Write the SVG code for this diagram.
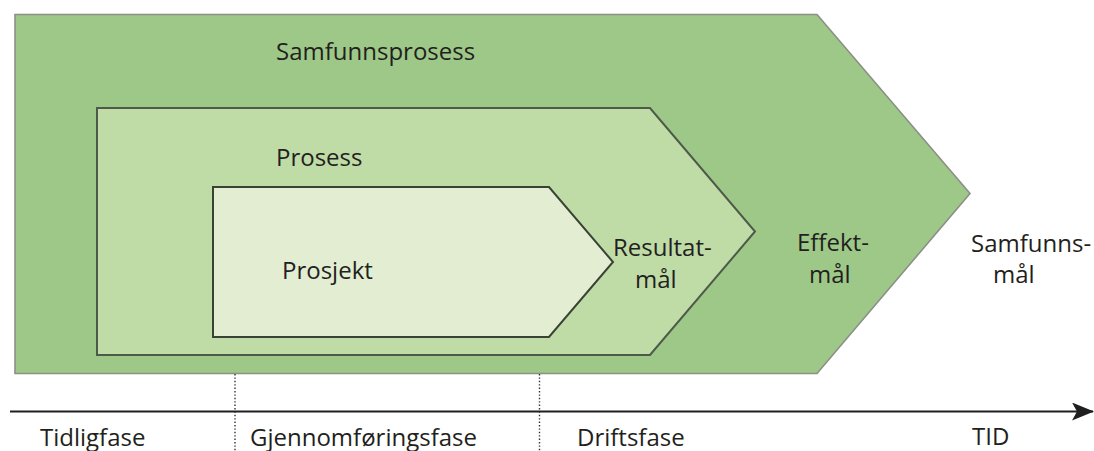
<svg xmlns="http://www.w3.org/2000/svg" width="1094" height="451" viewBox="0 0 1094 451">
  <style>
    text { font-family: "Open Sans", "Noto Sans", "Liberation Sans", sans-serif; font-size: 24px; fill: #231f20; }
    .outer { fill: #9ec887; stroke: #8b9087; stroke-width: 1.6; }
    .middle { fill: #bfdba6; stroke: #4e5a49; stroke-width: 2; }
    .inner { fill: #e2edd2; stroke: #3a4236; stroke-width: 2; }
    .axis { stroke: #1f1f1f; stroke-width: 2; fill: none; }
    .phase { stroke: #333; stroke-width: 1.4; stroke-dasharray: 1.4 2; fill: none; }
  </style>
  <defs>
    <marker id="arrowhead" viewBox="0 0 22 18" refX="21" refY="9" markerWidth="22" markerHeight="18" markerUnits="userSpaceOnUse" orient="auto">
      <path d="M0,0 L22,9 L0,18 L5,9 Z" fill="#1f1f1f"/>
    </marker>
  </defs>

  <!-- Outermost chevron: societal process -->
  <g id="samfunnsprosess">
    <polygon class="outer" points="15,14.5 817,14.5 970,193.5 817,373.5 15,373.5"/>
    <text x="276" y="60">Samfunnsprosess</text>
    <text x="797" y="251">Effekt-</text>
    <text x="809" y="283">mål</text>
  </g>

  <!-- Middle chevron: process -->
  <g id="prosess">
    <polygon class="middle" points="97,108 650,108 755,231.5 650,355 97,355"/>
    <text x="276" y="166">Prosess</text>
    <text x="613" y="256">Resultat-</text>
    <text x="635" y="288">mål</text>
  </g>

  <!-- Inner chevron: project -->
  <g id="prosjekt">
    <polygon class="inner" points="213,187 549,187 613,262 549,337 213,337"/>
    <text x="282" y="279">Prosjekt</text>
  </g>

  <!-- Societal goal, outside the chevrons -->
  <g id="samfunnsmaal">
    <text x="971" y="252">Samfunns-</text>
    <text x="993" y="283">mål</text>
  </g>

  <!-- Time axis and phase boundaries -->
  <g id="connectors">
    <line class="phase" x1="235" y1="374" x2="235" y2="451"/>
    <line class="phase" x1="539.5" y1="374" x2="539.5" y2="451"/>
    <line class="axis" x1="10" y1="411.5" x2="1093" y2="411.5" marker-end="url(#arrowhead)"/>
  </g>

  <!-- Phase labels -->
  <g id="faser">
    <text x="40" y="446">Tidligfase</text>
    <text x="250" y="446">Gjennomføringsfase</text>
    <text x="577" y="446">Driftsfase</text>
    <text x="972" y="445">TID</text>
  </g>
</svg>
